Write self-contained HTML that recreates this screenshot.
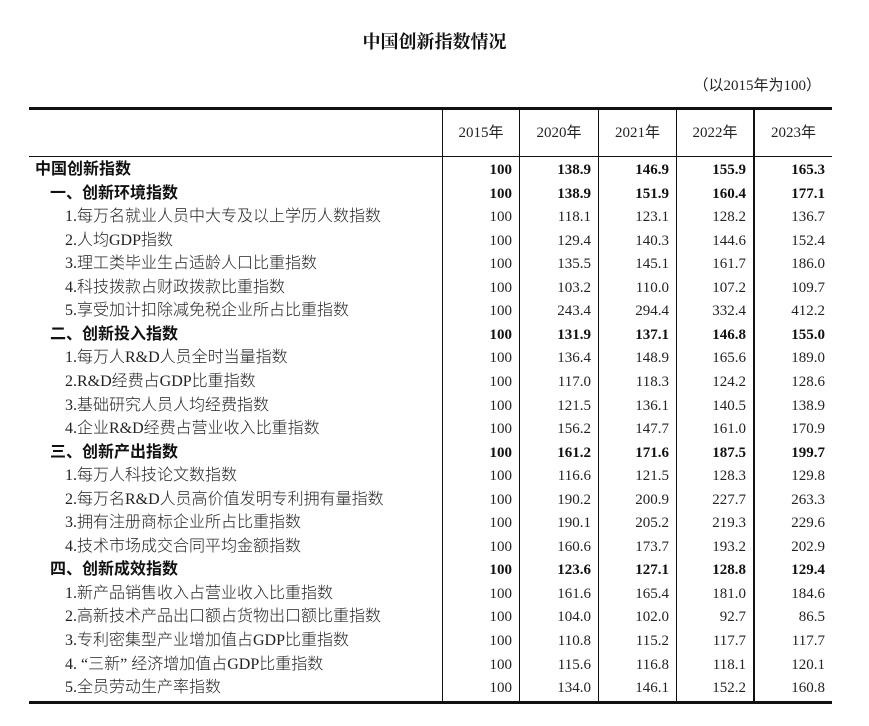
<!DOCTYPE html>
<html><head><meta charset="utf-8"><style>
body{margin:0;width:869px;height:726px;background:#fff;position:relative;font-family:"Liberation Serif","Noto Sans CJK SC",serif;color:#222;overflow:hidden}
.t{position:absolute;white-space:nowrap;font-size:15px;line-height:20px}
.lb{font-size:16px;font-weight:300}
.b{font-weight:bold;color:#111}
.n{text-align:right}
.ln{position:absolute;background:#111}
</style></head><body>
<div class="t b" style="left:0;width:869px;text-align:center;top:32px;font-size:18px;font-family:'Liberation Serif','Noto Serif CJK SC',serif">中国创新指数情况</div>
<div class="t" style="right:48px;top:76px">（以2015年为100）</div>
<div class="ln" style="left:29px;width:803px;top:107px;height:3px"></div>
<div class="ln" style="left:29px;width:803px;top:156px;height:1px"></div>
<div class="ln" style="left:29px;width:803px;top:701px;height:3px"></div>
<div class="ln" style="left:442px;width:1px;top:110px;height:591px"></div>
<div class="ln" style="left:519px;width:1px;top:110px;height:591px"></div>
<div class="ln" style="left:598px;width:1px;top:110px;height:591px"></div>
<div class="ln" style="left:676px;width:1px;top:110px;height:591px"></div>
<div class="ln" style="left:753px;width:2px;top:110px;height:591px"></div>
<div id="c"></div>
<script>
var hdr=["2015年","2020年","2021年","2022年","2023年"];
var cx=[[443,519],[520,598],[599,676],[677,753],[755,832]];
var h='';
hdr.forEach(function(s,i){h+='<div class="t" style="left:'+cx[i][0]+'px;width:'+(cx[i][1]-cx[i][0])+'px;text-align:center;top:123px">'+s+'</div>';});
var rows=[
[0,1,"中国创新指数","100","138.9","146.9","155.9","165.3"],
[1,1,"一、创新环境指数","100","138.9","151.9","160.4","177.1"],
[2,0,"1.每万名就业人员中大专及以上学历人数指数","100","118.1","123.1","128.2","136.7"],
[2,0,"2.人均GDP指数","100","129.4","140.3","144.6","152.4"],
[2,0,"3.理工类毕业生占适龄人口比重指数","100","135.5","145.1","161.7","186.0"],
[2,0,"4.科技拨款占财政拨款比重指数","100","103.2","110.0","107.2","109.7"],
[2,0,"5.享受加计扣除减免税企业所占比重指数","100","243.4","294.4","332.4","412.2"],
[1,1,"二、创新投入指数","100","131.9","137.1","146.8","155.0"],
[2,0,"1.每万人R&D人员全时当量指数","100","136.4","148.9","165.6","189.0"],
[2,0,"2.R&D经费占GDP比重指数","100","117.0","118.3","124.2","128.6"],
[2,0,"3.基础研究人员人均经费指数","100","121.5","136.1","140.5","138.9"],
[2,0,"4.企业R&D经费占营业收入比重指数","100","156.2","147.7","161.0","170.9"],
[1,1,"三、创新产出指数","100","161.2","171.6","187.5","199.7"],
[2,0,"1.每万人科技论文数指数","100","116.6","121.5","128.3","129.8"],
[2,0,"2.每万名R&D人员高价值发明专利拥有量指数","100","190.2","200.9","227.7","263.3"],
[2,0,"3.拥有注册商标企业所占比重指数","100","190.1","205.2","219.3","229.6"],
[2,0,"4.技术市场成交合同平均金额指数","100","160.6","173.7","193.2","202.9"],
[1,1,"四、创新成效指数","100","123.6","127.1","128.8","129.4"],
[2,0,"1.新产品销售收入占营业收入比重指数","100","161.6","165.4","181.0","184.6"],
[2,0,"2.高新技术产品出口额占货物出口额比重指数","100","104.0","102.0","92.7","86.5"],
[2,0,"3.专利密集型产业增加值占GDP比重指数","100","110.8","115.2","117.7","117.7"],
[2,0,"4. “三新” 经济增加值占GDP比重指数","100","115.6","116.8","118.1","120.1"],
[2,0,"5.全员劳动生产率指数","100","134.0","146.1","152.2","160.8"]];
var ind=[35,50,65];
rows.forEach(function(r,k){
 var y=160+k*23.55;
 var cls=r[1]?'t b':'t';
 h+='<div class="'+cls+(r[1]?'':' lb')+'" style="left:'+ind[r[0]]+'px;top:'+y+'px;font-size:16px">'+r[2]+'</div>';
 for(var i=0;i<5;i++){
  h+='<div class="'+cls+' n" style="left:'+cx[i][0]+'px;width:'+(cx[i][1]-cx[i][0]-7)+'px;top:'+y+'px">'+r[3+i]+'</div>';
 }
});
document.getElementById('c').innerHTML=h;
</script>
</body></html>
